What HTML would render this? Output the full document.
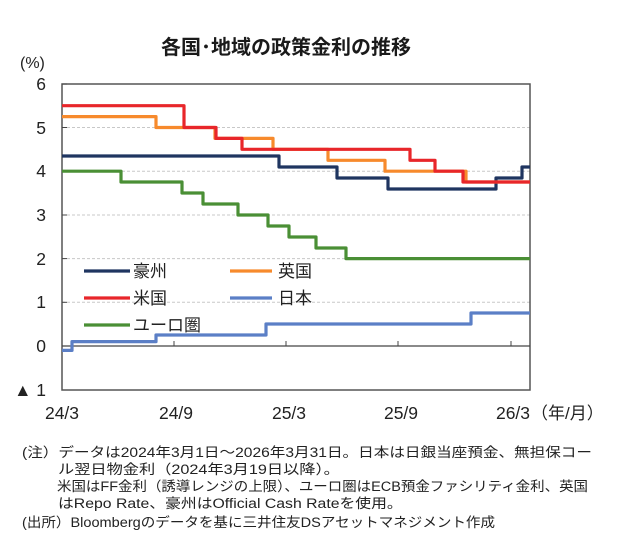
<!DOCTYPE html>
<html><head><meta charset="utf-8"><style>
body{margin:0;background:#fff;position:relative;width:631px;height:553px;overflow:hidden;}
svg{display:block;font-family:"Liberation Sans","Noto Sans CJK JP",sans-serif;}
.fn{position:absolute;left:58px;font-family:"Liberation Sans","Noto Sans CJK JP",sans-serif;font-size:13.5px;line-height:16px;color:#222;white-space:nowrap;transform-origin:0 0;}
</style></head><body>
<svg width="631" height="553" viewBox="0 0 631 553" xmlns="http://www.w3.org/2000/svg">
<text x="286" y="54" font-size="20" font-weight="bold" text-anchor="middle" fill="#1a1a1a">各国･地域の政策金利の推移</text>
<text x="20" y="68" font-size="16" fill="#222">(%)</text>
<g stroke="#c8c8c8" stroke-dasharray="3,2" stroke-width="1">
<line x1="62" y1="127.5" x2="530" y2="127.5"/>
<line x1="62" y1="171.2" x2="530" y2="171.2"/>
<line x1="62" y1="215" x2="530" y2="215"/>
<line x1="62" y1="258.6" x2="530" y2="258.6"/>
<line x1="62" y1="302.3" x2="530" y2="302.3"/>
</g>
<rect x="62" y="84" width="468" height="306" fill="none" stroke="#555" stroke-width="1.5"/>
<line x1="62" y1="346" x2="530" y2="346" stroke="#444" stroke-width="1.3"/>
<g stroke="#444" stroke-width="1">
<line x1="62" y1="84" x2="67" y2="84"/><line x1="62" y1="127.5" x2="67" y2="127.5"/><line x1="62" y1="171.2" x2="67" y2="171.2"/><line x1="62" y1="215" x2="67" y2="215"/><line x1="62" y1="258.6" x2="67" y2="258.6"/><line x1="62" y1="302.3" x2="67" y2="302.3"/>
<line x1="174" y1="346" x2="174" y2="341"/><line x1="286" y1="346" x2="286" y2="341"/><line x1="398" y1="346" x2="398" y2="341"/><line x1="511" y1="346" x2="511" y2="341"/>
</g>
<g font-size="17.5" fill="#222" text-anchor="end">
<text x="46" y="90">6</text><text x="46" y="134">5</text><text x="46" y="177">4</text><text x="46" y="221">3</text><text x="46" y="265">2</text><text x="46" y="308">1</text><text x="46" y="352">0</text><text x="46" y="396">▲ 1</text>
</g>
<g font-size="17.5" fill="#222" text-anchor="middle">
<text x="62" y="419">24/3</text><text x="176" y="419">24/9</text><text x="289" y="419">25/3</text><text x="401" y="419">25/9</text><text x="513" y="419">26/3</text>
</g>
<text x="531" y="419" font-size="17" fill="#222">（年/月）</text>
<g fill="none" stroke-width="3.2" stroke-linejoin="round">
<polyline stroke="#4a8f35" points="62,171.2 121,171.2 121,182 182,182 182,193 203,193 203,204 238,204 238,215 268,215 268,226 289,226 289,237 316,237 316,248 346,248 346,258.6 530,258.6"/>
<polyline stroke="#5b7fc6" points="62,350.4 72,350.4 72,341.6 156,341.6 156,335 266,335 266,324 471,324 471,313 530,313"/>
<polyline stroke="#1f3560" points="62,156 279,156 279,167 337,167 337,178 388,178 388,189 496,189 496,178 522,178 522,167 530,167"/>
<polyline stroke="#f78a2c" points="62,116.6 156,116.6 156,127.5 215,127.5 215,138.4 273,138.4 273,149.3 328,149.3 328,160.3 385,160.3 385,171.2 466,171.2 466,182 530,182"/>
<polyline stroke="#e8262a" points="62,105.7 184,105.7 184,127.5 216,127.5 216,138.4 242,138.4 242,149.3 410,149.3 410,160.3 435,160.3 435,171.2 463,171.2 463,182 530,182"/>
</g>
<g stroke-width="3.2">
<line x1="84" y1="271" x2="130" y2="271" stroke="#1f3560"/>
<line x1="230" y1="271" x2="272" y2="271" stroke="#f78a2c"/>
<line x1="84" y1="298" x2="130" y2="298" stroke="#e8262a"/>
<line x1="230" y1="298" x2="272" y2="298" stroke="#5b7fc6"/>
<line x1="84" y1="325" x2="130" y2="325" stroke="#4a8f35"/>
</g>
<g font-size="17" fill="#222">
<text x="133" y="277">豪州</text><text x="278" y="277">英国</text>
<text x="133" y="304">米国</text><text x="278" y="304">日本</text>
<text x="133" y="331">ユーロ圏</text>
</g>
<g font-size="13.5" fill="#222">
<text x="22" y="457" textLength="570" lengthAdjust="spacingAndGlyphs">(注）データは2024年3月1日～2026年3月31日。日本は日銀当座預金、無担保コー</text>
<text x="57" y="491" textLength="531" lengthAdjust="spacingAndGlyphs">米国はFF金利（誘導レンジの上限）、ユーロ圏はECB預金ファシリティ金利、英国</text>
<text x="22" y="527" textLength="473" lengthAdjust="spacingAndGlyphs">(出所）Bloombergのデータを基に三井住友DSアセットマネジメント作成</text>
</g>
</svg>
<div class="fn" style="top:462px;transform:scaleX(1.2);">ル翌日物金利（2024年3月19日以降）。</div>
<div class="fn" style="top:496px;transform:scaleX(1.17);">はRepo Rate、豪州はOfficial Cash Rateを使用。</div>
</body></html>
